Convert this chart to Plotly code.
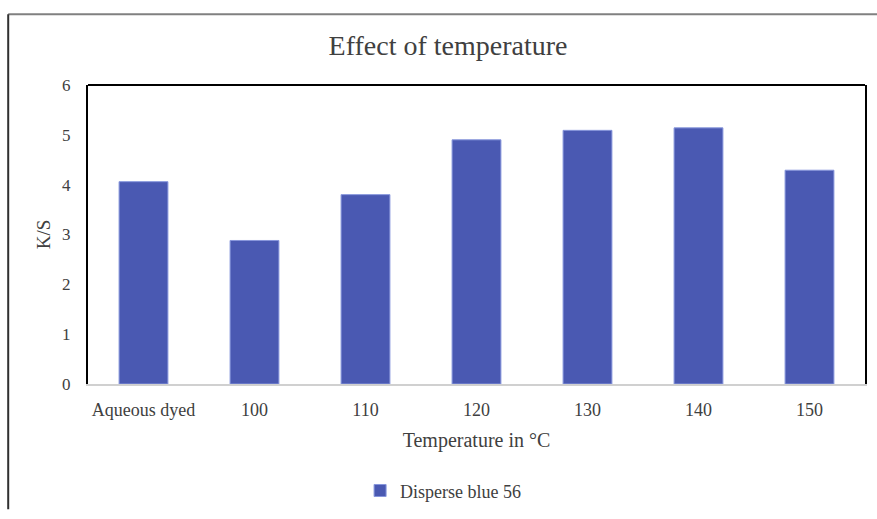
import plotly.graph_objects as go

categories = ["Aqueous dyed", "100", "110", "120", "130", "140", "150"]
ks_values = [4.06, 2.88, 3.80, 4.90, 5.09, 5.14, 4.29]
y_ticks = [0, 1, 2, 3, 4, 5, 6]
series_name = "Disperse blue 56"

FONT = "Liberation Serif, Times New Roman, serif"
TXT = "#404040"

fig = go.Figure()
fig.add_trace(go.Bar(
    x=categories, y=ks_values, name=series_name,
    marker=dict(color="#4A59B2", line=dict(color="#8796DC", width=1)),
    showlegend=True,
))

W, H = 877, 519
L, R, T, B = 88, 10, 85, 126
pw, ph = W - L - R, H - T - B

def px_x(px):
    return (px - L) / pw

def px_y(py):
    return (H - B - py) / ph

fig.update_layout(
    width=W, height=H,
    margin=dict(l=L, r=R, t=T, b=B),
    paper_bgcolor="white", plot_bgcolor="white",
    font=dict(family=FONT, color=TXT, size=18),
    bargap=0.56,
    title=dict(text="Effect of temperature", x=448 / W, xanchor="center",
               y=1 - 45 / H, yanchor="middle", yref="container",
               font=dict(size=28, color=TXT, family=FONT)),
    xaxis=dict(
        type="category", showgrid=False, zeroline=False,
        showline=True, linecolor="#D0D0D0", linewidth=2,
        ticks="", ticklabelstandoff=8,
        tickfont=dict(size=18, color=TXT),
        title=dict(text="Temperature in °C", standoff=14,
                   font=dict(size=20, color=TXT)),
    ),
    yaxis=dict(
        range=[0, 6], tickvals=y_ticks, showgrid=False, zeroline=False,
        showline=True, mirror=True, linecolor="black", linewidth=2,
        ticks="", ticklabelstandoff=12,
        tickfont=dict(size=17, color=TXT),
        title=dict(text="K/S", standoff=6, font=dict(size=19, color=TXT)),
    ),
    legend=dict(orientation="h", x=px_x(444), xanchor="center",
                y=px_y(503), yanchor="middle",
                font=dict(size=18, color=TXT), itemwidth=30,
                bgcolor="rgba(0,0,0,0)"),
    shapes=[
        # plot area top border
        dict(type="line", xref="paper", yref="paper", x0=0, x1=1, y0=1, y1=1,
             line=dict(color="black", width=2)),
        # outer chart frame (top and left)
        dict(type="line", xref="paper", yref="paper",
             x0=px_x(8), x1=px_x(880), y0=px_y(12), y1=px_y(12),
             line=dict(color="#808080", width=2)),
        dict(type="line", xref="paper", yref="paper",
             x0=px_x(8), x1=px_x(8), y0=px_y(12), y1=px_y(522),
             line=dict(color="#303030", width=2)),
    ],
)

fig.write_html("out.html")
